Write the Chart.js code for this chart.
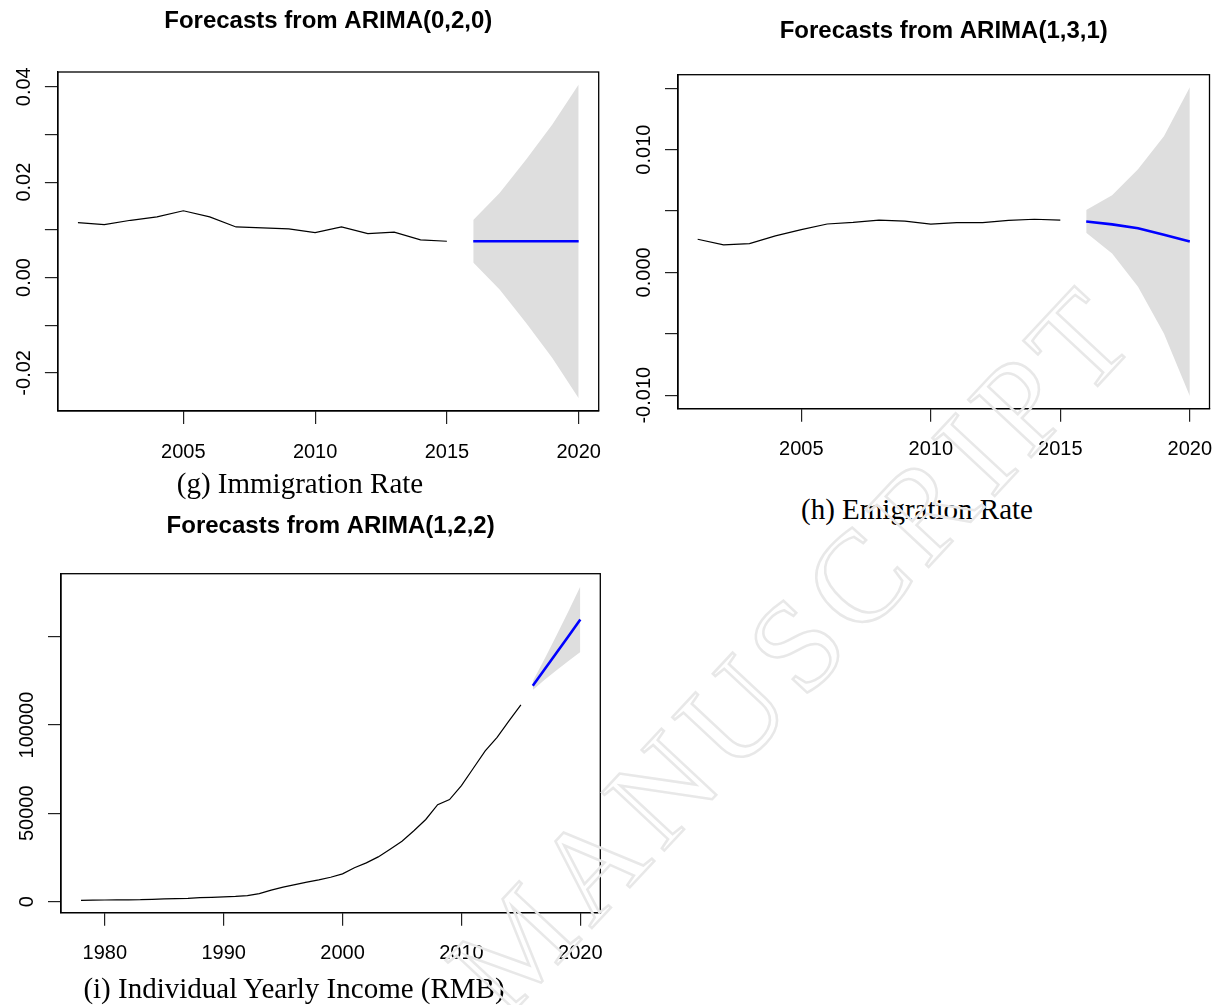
<!DOCTYPE html>
<html><head><meta charset="utf-8">
<script src="https://cdn.jsdelivr.net/npm/chart.js@4.4.1/dist/chart.umd.min.js"></script>
<style>
html,body{margin:0;padding:0;background:#fff}
#page{position:relative;width:1220px;height:1005px;overflow:hidden;background:#fff}
canvas{position:absolute;display:block}
.cap{position:absolute;font-family:'Liberation Serif','Times New Roman',serif;font-size:29px;white-space:nowrap;color:#000;transform:translateX(-50%);line-height:1;z-index:3}
</style></head><body><div id="page">
<canvas id="cg" width="615" height="480" style="left:0;top:0"></canvas>
<canvas id="ch" width="610" height="480" style="left:610px;top:0"></canvas>
<canvas id="ci" width="615" height="515" style="left:0;top:490px"></canvas>
<div class="cap" style="left:300px;top:469px">(g) Immigration Rate</div>
<div class="cap" style="left:917px;top:495px">(h) Emigration Rate</div>
<div class="cap" style="left:294px;top:974px">(i) Individual Yearly Income (RMB)</div>
<canvas id="wm" width="1220" height="1005" style="left:0;top:0;z-index:4;pointer-events:none"></canvas>
</div>
<script>
// ---- data ----
const histYearsG = [2001,2002,2003,2004,2005,2006,2007,2008,2009,2010,2011,2012,2013,2014,2015];
const fcYears = [2016,2017,2018,2019,2020];
const immigration = [0.0115,0.0111,0.0120,0.0127,0.0140,0.0127,0.0106,0.0104,0.0102,0.0094,0.0106,0.0092,0.0095,0.0079,0.0076];
const immigrationFc = [0.0076,0.0076,0.0076,0.0076,0.0076];
const immigrationHi = [0.01205,0.0177,0.0247,0.0321,0.0405];
const immigrationLo = [0.00315,-0.0025,-0.0095,-0.0169,-0.0253];

const emigration = [0.00270,0.00224,0.00235,0.00298,0.00348,0.00394,0.00407,0.00425,0.00418,0.00393,0.00406,0.00406,0.00423,0.00433,0.00425];
const emigrationFc = [0.00415,0.00391,0.00359,0.00306,0.00251];
const emigrationHi = [0.00508,0.00628,0.00839,0.01109,0.01508];
const emigrationLo = [0.00322,0.00154,-0.00117,-0.00497,-0.01006];

const histYearsI = [1978,1979,1980,1981,1982,1983,1984,1985,1986,1987,1988,1989,1990,1991,1992,1993,1994,1995,1996,1997,1998,1999,2000,2001,2002,2003,2004,2005,2006,2007,2008,2009,2010,2011,2012,2013,2014,2015];
const income = [700,800,900,950,1000,1050,1300,1500,1700,1850,2250,2400,2650,2900,3400,4500,6500,8150,9600,11000,12300,13800,15700,19200,21900,25300,29700,34200,40100,46500,54900,57800,65700,75500,85300,93000,102300,111400];
const incomeFc = [122300,131600,140900,150300,159700];
const incomeHi = [124800,137600,150800,164400,178400];
const incomeLo = [119800,125700,131000,136200,141400];

const xTicksGH = [2005,2010,2015,2020];
const xTicksI = [1980,1990,2000,2010,2020];
const yTicksG = [-0.02,-0.01,0,0.01,0.02,0.03,0.04];
const yLabelsG = ['-0.02','','0.00','','0.02','','0.04'];
const yTicksH = [-0.010,-0.005,0,0.005,0.010,0.015];
const yLabelsH = ['-0.010','','0.000','','0.010',''];
const yTicksI = [0,50000,100000,150000];
const yLabelsI = ['0','50000','100000',''];

// ---- helpers ----
const FAM = "'Liberation Sans', Arial, sans-serif";
const mctx = document.createElement('canvas').getContext('2d');
mctx.font = "20px " + FAM;
function widest(labels){ return Math.max(...labels.map(l => mctx.measureText(l).width)); }
function pts(xs, ys){ return xs.map((x,i)=>({x:x, y:ys[i]})); }

const framePlugin = { id:'frame', afterDraw(chart){
  const {ctx, chartArea:a} = chart;
  ctx.save(); ctx.strokeStyle='#000'; ctx.lineWidth=1.3;
  ctx.strokeRect(a.left, a.top, a.right-a.left, a.bottom-a.top);
  ctx.restore();
}};

function makeChart(id, c){
  const wy = widest(c.yLabels);
  return new Chart(document.getElementById(id), {
    type:'line',
    data:{datasets:[
      {data:pts(fcYears,c.lo), borderColor:'rgba(0,0,0,0)', pointRadius:0, fill:false, order:3},
      {data:pts(fcYears,c.hi), borderColor:'rgba(0,0,0,0)', backgroundColor:'#dedede', pointRadius:0, fill:'-1', order:3},
      {data:pts(c.hx,c.hist), borderColor:'#000', borderWidth:1.2, pointRadius:0, fill:false, order:2, tension:0},
      {data:pts(fcYears,c.fc), borderColor:'#0000ff', borderWidth:2.6, pointRadius:0, fill:false, order:1, tension:0}
    ]},
    options:{
      responsive:false, animation:false, devicePixelRatio:1,
      layout:{padding:{left:0,right:c.padRight,top:0,bottom:0}},
      plugins:{legend:{display:false}, tooltip:{enabled:false},
        title:{display:true, text:c.title, fullSize:false, color:'#000',
          font:{family:FAM, size:24, weight:'bold', lineHeight:1.2},
          padding:{top:c.tTop, bottom:c.tBot}}},
      scales:{
        x:{type:'linear', min:c.xmin, max:c.xmax,
          afterBuildTicks:s=>{ s.ticks = c.xTicks.map(v=>({value:v})); },
          afterFit:s=>{ s.height=c.xH; s.paddingLeft=0; s.paddingRight=0; s.paddingTop=0; s.paddingBottom=0; },
          ticks:{font:{family:FAM,size:20}, color:'#000', padding:16, maxRotation:0, minRotation:0, autoSkip:false,
            callback:(v)=>String(v)},
          grid:{drawOnChartArea:false, drawTicks:true, tickLength:13, color:'#222', lineWidth:1.2},
          border:{display:true, color:'#000', width:1.3}},
        y:{type:'linear', min:c.ymin, max:c.ymax,
          afterBuildTicks:s=>{ s.ticks = c.yTicks.map(v=>({value:v})); },
          afterFit:s=>{ s.width=c.yW; s.paddingLeft=0; s.paddingRight=0; s.paddingTop=0; s.paddingBottom=0; },
          ticks:{font:{family:FAM,size:20}, color:'#000', minRotation:90, maxRotation:90, crossAlign:'center',
            padding:20.5 - wy/2, autoSkip:false,
            callback:(v,i)=>c.yLabels[i]},
          grid:{drawOnChartArea:false, drawTicks:true, tickLength:13, color:'#222', lineWidth:1.2},
          border:{display:true, color:'#000', width:1.3}}
      }
    },
    plugins:[framePlugin]
  });
}

makeChart('cg', {title:'Forecasts from ARIMA(0,2,0)', hx:histYearsG, hist:immigration, fc:immigrationFc, hi:immigrationHi, lo:immigrationLo,
  xmin:2000.24, xmax:2020.76, ymin:-0.0280, ymax:0.0431, xTicks:xTicksGH, yTicks:yTicksG, yLabels:yLabelsG,
  yW:57.9, xH:69, padRight:16.3, tTop:6.6, tBot:36.6});
makeChart('ch', {title:'Forecasts from ARIMA(1,3,1)', hx:histYearsG, hist:emigration, fc:emigrationFc, hi:emigrationHi, lo:emigrationLo,
  xmin:2000.24, xmax:2020.76, ymin:-0.0111, ymax:0.0161, xTicks:xTicksGH, yTicks:yTicksH, yLabels:yLabelsH,
  yW:68, xH:71.3, padRight:10.5, tTop:16.6, tBot:29.3});
makeChart('ci', {title:'Forecasts from ARIMA(1,2,2)', hx:histYearsI, hist:income, fc:incomeFc, hi:incomeHi, lo:incomeLo,
  xmin:1976.32, xmax:2021.68, ymin:-6300, ymax:185700, xTicks:xTicksI, yTicks:yTicksI, yLabels:yLabelsI,
  yW:61, xH:92.3, padRight:14.7, tTop:21.6, tBot:33.3});

// ---- watermark ----
(function(){
  const w = document.getElementById('wm').getContext('2d');
  w.save();
  w.translate(1145, 335);
  w.rotate(-47*Math.PI/180);
  w.font = "130px 'Liberation Serif', serif";
  try { w.letterSpacing = '10px'; } catch(e){}
  w.textAlign = 'right';
  w.textBaseline = 'alphabetic';
  w.strokeStyle = '#e8e8e8';
  w.lineWidth = 2.5;
  w.strokeText('ACCEPTED MANUSCRIPT', 0, 0);
  w.restore();
})();
</script>
</body></html>
